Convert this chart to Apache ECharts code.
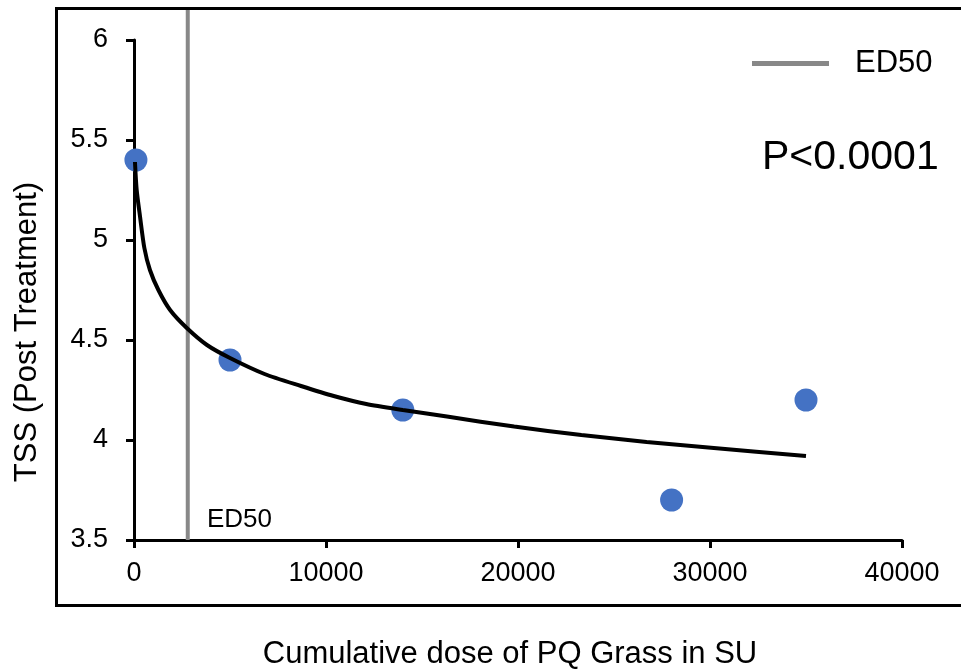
<!DOCTYPE html>
<html>
<head>
<meta charset="utf-8">
<script src="https://cdn.jsdelivr.net/npm/echarts@6/dist/echarts.min.js"></script>
<style>
  html, body { margin: 0; padding: 0; background: #fff; }
  #main { width: 961px; height: 669px; }
</style>
</head>
<body>
<div id="main"></div>
<script>
    // observed points
    var doseX = [100, 5000, 14000, 28000, 35000];
    var tssY = [5.4, 4.4, 4.15, 3.7, 4.2];

    // fitted curve
    var fitX = [50, 140, 310, 540, 830, 1270, 1880, 2750, 3800, 5000, 6800, 8700, 10400, 12100, 14000, 16300, 19800, 23300, 26700, 30200, 35000];
    var fitY = [5.39, 5.25, 5.12, 4.96, 4.85, 4.75, 4.65, 4.56, 4.475, 4.41, 4.33, 4.27, 4.22, 4.18, 4.15, 4.117, 4.067, 4.025, 3.99, 3.96, 3.92];

    // ED50 line
    var ed50X = [2800, 2800];
    var ed50Y = [3.5, 6.15];

    var xTicks = [0, 10000, 20000, 30000, 40000];
    var yTicks = [3.5, 4, 4.5, 5, 5.5, 6];

    function pairs(xs, ys) {
        var list = [];
        for (var i = 0; i < xs.length; i++) {
            list.push([xs[i], ys[i]]);
        }
        return list;
    }

    var font = 'Liberation Sans, Arial, sans-serif';
    var myChart = echarts.init(document.getElementById('main'));
    var option = {
        animation: false,
        backgroundColor: '#fff',
        grid: { left: 134, right: 59, top: 40, bottom: 129 },
        legend: {
            left: 747, top: 43,
            icon: 'rect',
            itemWidth: 77, itemHeight: 5, itemGap: 10,
            data: ['ED50'],
            textStyle: { fontFamily: font, fontSize: 31, color: '#000', padding: [0, 0, 0, 21] }
        },
        graphic: [
            {
                type: 'rect', silent: true,
                shape: { x: 56.5, y: 8.5, width: 960, height: 597 },
                style: { fill: 'none', stroke: '#000', lineWidth: 3 }
            },
            {
                type: 'text', x: 762, y: 158,
                style: { text: 'P<0.0001', font: '41px ' + font, fill: '#000', verticalAlign: 'middle' }
            },
            {
                type: 'text', x: 207, y: 520,
                style: { text: 'ED50', font: '26px ' + font, fill: '#000', verticalAlign: 'middle' }
            },
            {
                type: 'text', x: 510, y: 654,
                style: { text: 'Cumulative dose of PQ Grass in SU', font: '31px ' + font, fill: '#000', align: 'center', verticalAlign: 'middle' }
            },
            {
                type: 'text', x: 27, y: 332, rotation: Math.PI / 2,
                style: { text: 'TSS (Post Treatment)', font: '31px ' + font, fill: '#000', align: 'center', verticalAlign: 'middle' }
            }
        ],
        xAxis: {
            type: 'value',
            min: xTicks[0], max: xTicks[xTicks.length - 1], interval: 10000,
            splitLine: { show: false },
            axisLine: { lineStyle: { color: '#000', width: 3 } },
            axisTick: { show: true, length: 8, lineStyle: { color: '#000', width: 3 } },
            axisLabel: {
                margin: 20, color: '#000', fontSize: 27, fontFamily: font,
                formatter: function (v) { return String(v); }
            }
        },
        yAxis: {
            type: 'value',
            min: yTicks[0], max: yTicks[yTicks.length - 1], interval: 0.5,
            splitLine: { show: false },
            axisLine: { show: true, lineStyle: { color: '#000', width: 3 } },
            axisTick: { show: true, length: 8, lineStyle: { color: '#000', width: 3 } },
            axisLabel: { margin: 26, color: '#000', fontSize: 27, fontFamily: font }
        },
        series: [
            {
                name: 'ED50',
                type: 'line',
                data: pairs(ed50X, ed50Y),
                showSymbol: false,
                clip: false,
                lineStyle: { color: '#888888', width: 4 },
                itemStyle: { color: '#888888' },
                z: 1
            },
            {
                name: 'Fit',
                type: 'line',
                data: pairs(fitX, fitY),
                showSymbol: false,
                smooth: 0.25,
                lineStyle: { color: '#000', width: 4 },
                z: 3
            },
            {
                name: 'TSS',
                type: 'scatter',
                data: pairs(doseX, tssY),
                symbolSize: 23,
                itemStyle: { color: '#4472C4', opacity: 1 },
                z: 2
            }
        ]
    };
    option && myChart.setOption(option);
</script>
</body>
</html>
